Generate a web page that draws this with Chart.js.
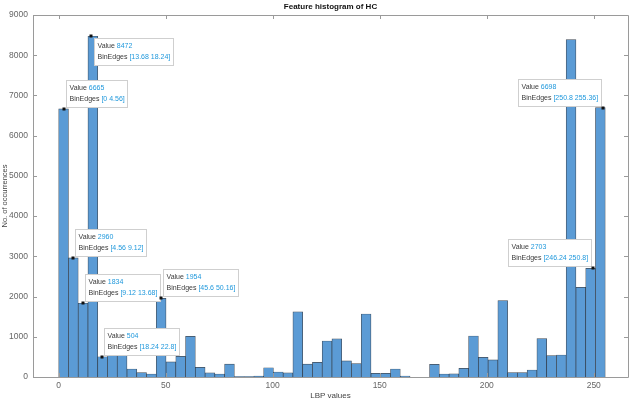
<!DOCTYPE html>
<html>
<head>
<meta charset="utf-8">
<script src="https://cdn.jsdelivr.net/npm/chart.js@4/dist/chart.umd.min.js"></script>
<style>
  html, body { margin: 0; padding: 0; background: #ffffff; }
  #c { display: block; }
</style>
</head>
<body>
<canvas id="c" width="629" height="403"></canvas>
<script>
// Histogram of LBP codes: 56 bins, each 4.56 wide, starting at 0
const binWidth = 4.56;
const counts = [
  6665, 2960, 1834, 8472, 504, 540, 530, 200, 110, 75,
  1954, 375, 515, 1010, 240, 105, 75, 320, 10, 12,
  20, 230, 125, 105, 1620, 320, 365, 895, 950, 400,
  335, 1567, 92, 92, 200, 25, 0, 0, 315, 75,
  80, 216, 1020, 490, 425, 1898, 107, 107, 175, 953,
  530, 547, 8390, 2230, 2703, 6698
];
const binEdges = counts.map((_, i) => +(i * binWidth).toFixed(2)).concat(+(counts.length * binWidth).toFixed(2));
const xTicks = [0, 50, 100, 150, 200, 250];
const yTicks = [0, 1000, 2000, 3000, 4000, 5000, 6000, 7000, 8000, 9000];
// Bins that carry a data tip
const tipBins = [3, 0, 1, 2, 4, 10, 55, 54];

const FONT = 'Liberation Sans, Arial, Helvetica, sans-serif';
const fmt = v => String(+v.toFixed(2));

// Box around the axes with inward-pointing tick marks on all four sides
const axesBox = {
  id: 'axesBox',
  afterDatasetsDraw(chart) {
    const { ctx, chartArea: a, scales: { x, y } } = chart;
    ctx.save();
    ctx.strokeStyle = '#9a9a9a';
    ctx.lineWidth = 1;
    ctx.beginPath();
    ctx.rect(Math.round(a.left) + 0.5, Math.round(a.top) + 0.5,
             Math.round(a.right - a.left), Math.round(a.bottom - a.top));
    const tl = 4;
    xTicks.forEach(v => {
      const px = Math.round(x.getPixelForValue(v)) + 0.5;
      ctx.moveTo(px, a.bottom); ctx.lineTo(px, a.bottom - tl);
      ctx.moveTo(px, a.top); ctx.lineTo(px, a.top + tl);
    });
    yTicks.forEach(v => {
      const py = Math.round(y.getPixelForValue(v)) + 0.5;
      ctx.moveTo(a.left, py); ctx.lineTo(a.left + tl, py);
      ctx.moveTo(a.right, py); ctx.lineTo(a.right - tl, py);
    });
    ctx.stroke();
    ctx.restore();
  }
};

// Data tips: a marker on the bar top and a small two-line box
const dataTips = {
  id: 'dataTips',
  afterDraw(chart, args, opts) {
    const { ctx, scales: { x, y } } = chart;
    ctx.save();
    ctx.font = '7px ' + FONT;
    ctx.textBaseline = 'middle';
    tipBins.forEach(bin => {
      const place = opts.placement[bin] || { side: 'ur', frac: 0.5 };
      const lo = binEdges[bin], hi = binEdges[bin + 1];
      const px = x.getPixelForValue(lo + place.frac * binWidth);
      const py = y.getPixelForValue(counts[bin]);
      const l1a = 'Value ', l1b = String(counts[bin]);
      const l2a = 'BinEdges ', l2b = '[' + fmt(lo) + ' ' + fmt(hi) + ']';
      const w1 = ctx.measureText(l1a + l1b).width;
      const w2 = ctx.measureText(l2a + l2b).width;
      const w = Math.round(Math.max(w1, w2) + 6), h = 27;
      let bx, by;
      if (place.side === 'dr') { bx = px + 3; by = py + 2; }
      else if (place.side === 'ul') { bx = px - 2 - w; by = py - 2 - h; }
      else { bx = px + 2; by = py - 2 - h; }
      bx = Math.round(bx) + 0.5; by = Math.round(by) + 0.5;
      ctx.fillStyle = '#ffffff';
      ctx.strokeStyle = '#cfcfcf';
      ctx.lineWidth = 1;
      ctx.fillRect(bx, by, w, h);
      ctx.strokeRect(bx, by, w, h);
      const tx = bx + 3;
      ctx.fillStyle = '#3a3a3a';
      ctx.fillText(l1a, tx, by + 8);
      ctx.fillText(l2a, tx, by + 19);
      ctx.fillStyle = '#1f98dc';
      ctx.fillText(l1b, tx + ctx.measureText(l1a).width, by + 8);
      ctx.fillText(l2b, tx + ctx.measureText(l2a).width, by + 19);
      ctx.fillStyle = '#111111';
      ctx.fillRect(Math.round(px) - 1.5, Math.round(py) - 1.5, 3, 3);
    });
    ctx.restore();
  }
};

const tickFont = { family: FONT, size: 8.5 };
const labelFont = { family: FONT, size: 8 };

new Chart(document.getElementById('c'), {
  type: 'bar',
  data: {
    datasets: [{
      data: counts.map((v, i) => ({ x: binEdges[i] + binWidth / 2, y: v })),
      backgroundColor: '#5b9bd5',
      borderColor: 'rgba(30, 42, 56, 0.85)',
      borderWidth: 0.7,
      barPercentage: 1,
      categoryPercentage: 1,
      grouped: false
    }]
  },
  options: {
    responsive: false,
    animation: false,
    devicePixelRatio: 1,
    layout: { padding: { left: 0, right: 1, top: 0, bottom: 0 } },
    plugins: {
      legend: { display: false },
      tooltip: { enabled: false },
      title: {
        display: true,
        text: 'Feature histogram of HC',
        fullSize: false,
        color: '#111111',
        font: { family: FONT, size: 8, weight: 'bold' },
        padding: { top: 2, bottom: 3.4 }
      },
      dataTips: {
        placement: {
          3: { side: 'dr', frac: 0.3 },
          0: { side: 'ur', frac: 0.55 },
          1: { side: 'ur', frac: 0.45 },
          2: { side: 'ur', frac: 0.5 },
          4: { side: 'ur', frac: 0.45 },
          10: { side: 'ur', frac: 0.5 },
          55: { side: 'ul', frac: 0.78 },
          54: { side: 'ul', frac: 0.75 }
        }
      }
    },
    scales: {
      x: {
        type: 'linear',
        offset: false,
        min: -12,
        max: 266,
        afterBuildTicks: s => { s.ticks = xTicks.map(v => ({ value: v })); },
        afterFit: s => { s.height = 26; },
        grid: { display: false, drawTicks: false, offset: false },
        border: { display: false },
        ticks: { font: tickFont, color: '#666666', padding: 4, maxRotation: 0, autoSkip: false, callback: v => String(v) },
        title: { display: true, text: 'LBP values', color: '#444444', font: labelFont, padding: { top: 0, bottom: 2 } }
      },
      y: {
        min: 0,
        max: 9000,
        afterBuildTicks: s => { s.ticks = yTicks.map(v => ({ value: v })); },
        afterFit: s => { s.width = 33; },
        grid: { display: false, drawTicks: false },
        border: { display: false },
        ticks: { font: tickFont, color: '#666666', padding: 5, autoSkip: false, callback: v => String(v) },
        title: { display: true, text: 'No. of occurrences', color: '#444444', font: { family: FONT, size: 7.5 }, padding: { top: 0, bottom: 0 } }
      }
    }
  },
  plugins: [axesBox, dataTips]
});
</script>
</body>
</html>
